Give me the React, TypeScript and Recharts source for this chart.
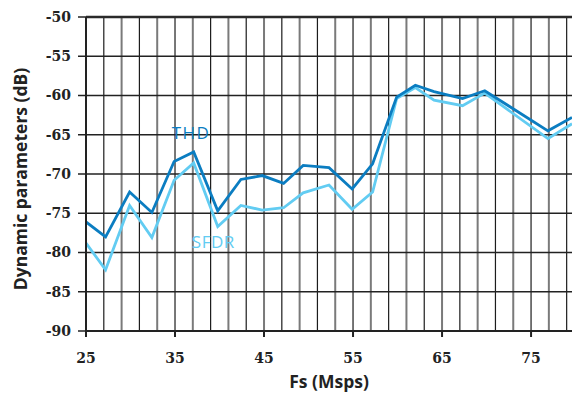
import {
  LineChart, Line, XAxis, YAxis, ReferenceLine, ReferenceDot, Label,
} from "recharts";

// sample rate (Msps) and measured dynamic parameters (dB)
const fs   = [25, 27.2, 29.9, 32.4, 34.9, 37.1, 39.8, 42.4, 44.8, 47.2, 49.4, 52.3, 54.9, 57.2, 59.9, 62.0, 64.1, 67.3, 69.8, 76.9, 79.6];
const thd  = [-76.1, -78.0, -72.3, -74.9, -68.4, -67.2, -74.7, -70.7, -70.2, -71.2, -68.9, -69.2, -71.9, -68.7, -60.2, -58.7, -59.5, -60.4, -59.4, -64.5, -62.8];
const sfdr = [-78.8, -82.2, -74.0, -78.1, -70.8, -68.6, -76.7, -74.0, -74.6, -74.3, -72.4, -71.4, -74.5, -72.3, -60.4, -59.0, -60.6, -61.3, -59.7, -65.5, -63.6];

const xTicks = [25, 35, 45, 55, 65, 75];
const yTicks = [-90, -85, -80, -75, -70, -65, -60, -55, -50];
const xGrid  = [27, 29, 31, 33, 35, 37, 39, 41, 43, 45, 47, 49, 51, 53, 55, 57, 59, 61, 63, 65, 67, 69, 71, 73, 75, 77, 79];
const yGrid  = [-85, -80, -75, -70, -65, -60, -55];

const THD_COLOR  = "#0b7dc1";
const SFDR_COLOR = "#62ccf2";

const data = fs.map((f, i) => ({ fs: f, thd: thd[i], sfdr: sfdr[i] }));

const tickFont = { fill: "#222", fontSize: 14, fontWeight: 700, fontFamily: "DejaVu Serif" };

// rotated y-axis title, placed from the axis viewBox
// eslint-disable-next-line @typescript-eslint/no-explicit-any
function YTitle({ viewBox }: any) {
  const cx = 20;
  const cy = viewBox.y + viewBox.height / 2 + 5;
  return (
    <text
      x={cx} y={cy}
      transform={`rotate(-90 ${cx} ${cy})`}
      textAnchor="middle"
      dominantBaseline="central"
      fill="#222"
      fontSize={17.5}
      fontWeight={700}
      fontFamily="Open Sans"
    >
      Dynamic parameters (dB)
    </text>
  );
}

export default function App() {
  return (
    <div style={{ position: "absolute", left: 0, top: 0, background: "#fff" }}>
      <LineChart width={572} height={395} data={data} margin={{ top: 17, right: 0, bottom: 0, left: 0 }}>
        {xGrid.map((x, i) => (
          <ReferenceLine key={"x" + x} x={x} stroke={i % 2 === 0 ? "#1c1c1c" : "#7a7a7a"} strokeWidth={i % 2 === 0 ? 1.2 : 2} />
        ))}
        {yGrid.map((y) => (
          <ReferenceLine key={"y" + y} y={y} stroke="#222" strokeWidth={1.5} />
        ))}
        <ReferenceLine y={-50} stroke="#2a2a2a" strokeWidth={2.5} />
        <XAxis
          dataKey="fs"
          type="number"
          domain={[25, 79.6]}
          allowDataOverflow
          ticks={xTicks}
          tick={tickFont}
          tickSize={6}
          tickMargin={16}
          height={64}
          axisLine={{ stroke: "#222", strokeWidth: 2 }}
          tickLine={{ stroke: "#222", strokeWidth: 2 }}
        >
          <Label
            value="Fs (Msps)"
            position="insideBottom"
            offset={7}
            style={{ fill: "#222", fontSize: 17.5, fontWeight: 700, fontFamily: "Open Sans" }}
          />
        </XAxis>
        <YAxis
          type="number"
          domain={[-90, -50]}
          ticks={yTicks}
          tick={tickFont}
          tickSize={8}
          tickMargin={7}
          width={86}
          axisLine={{ stroke: "#222", strokeWidth: 2 }}
          tickLine={{ stroke: "#222", strokeWidth: 1.5 }}
        >
          <Label content={<YTitle />} />
        </YAxis>
        <Line type="linear" dataKey="sfdr" stroke={SFDR_COLOR} strokeWidth={2.8} dot={false} isAnimationActive={false} />
        <Line type="linear" dataKey="thd" stroke={THD_COLOR} strokeWidth={2.8} dot={false} isAnimationActive={false} />
        <ReferenceDot x={36.8} y={-64.8} r={0} stroke="none"
          label={{ value: "THD", position: "center", fill: THD_COLOR, fontSize: 17, fontFamily: "Open Sans", letterSpacing: 1.5 }} />
        <ReferenceDot x={39.3} y={-78.7} r={0} stroke="none"
          label={{ value: "SFDR", position: "center", fill: SFDR_COLOR, fontSize: 17, fontFamily: "Open Sans", letterSpacing: 0.5 }} />
      </LineChart>
    </div>
  );
}
